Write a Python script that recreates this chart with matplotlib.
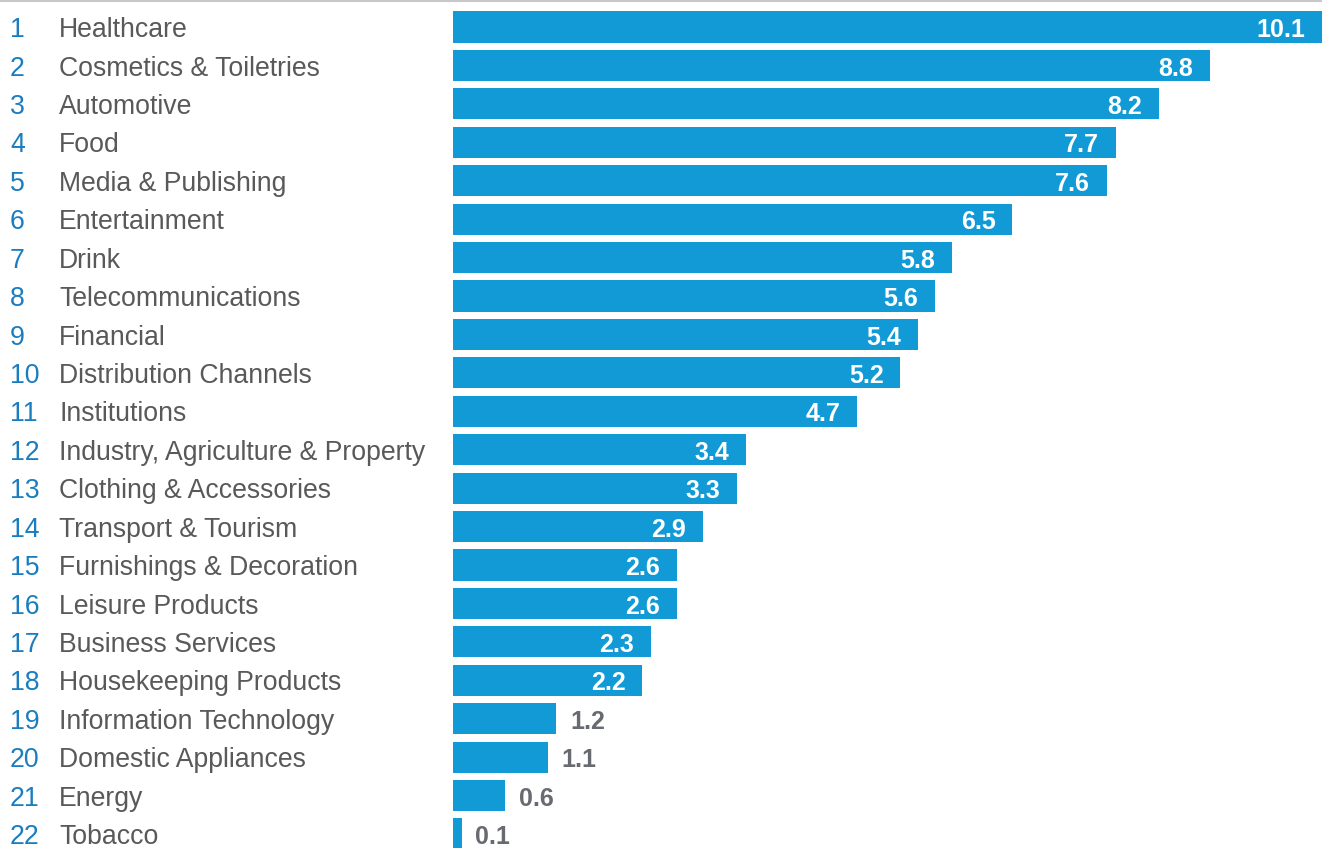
import matplotlib

matplotlib.use("Agg")
import matplotlib.pyplot as plt
from matplotlib.lines import Line2D
from matplotlib.transforms import blended_transform_factory

BLUE = "#119ad6"
NUM = "#1a7dc0"
TXT = "#595959"
DARK = "#676a70"

categories = ["Healthcare", "Cosmetics & Toiletries", "Automotive", "Food", "Media & Publishing",
              "Entertainment", "Drink", "Telecommunications", "Financial", "Distribution Channels",
              "Institutions", "Industry, Agriculture & Property", "Clothing & Accessories",
              "Transport & Tourism", "Furnishings & Decoration", "Leisure Products",
              "Business Services", "Housekeeping Products", "Information Technology",
              "Domestic Appliances", "Energy", "Tobacco"]
ranks = list(range(1, len(categories) + 1))
values = [10.1, 8.8, 8.2, 7.7, 7.6, 6.5, 5.8, 5.6, 5.4, 5.2, 4.7, 3.4, 3.3, 2.9, 2.6, 2.6,
          2.3, 2.2, 1.2, 1.1, 0.6, 0.1]

W, H = 1322, 848
fig = plt.figure(figsize=(W / 100, H / 100), dpi=100)
ax = fig.add_axes([453 / W, 0, 1 - 453 / W, 1])
ax.set_axis_off()

y = list(range(len(values)))
ax.barh(y, values, height=0.81, color=BLUE)
ax.set_xlim(0, 10.1)
ax.set_ylim((H - 27) / 38.43, -27 / 38.43)

font = "Liberation Sans"
dy = 0.08  # text sits a touch below the bar centre
lab_tr = blended_transform_factory(fig.transFigure, ax.transData)
for i, (r, c, v) in enumerate(zip(ranks, categories, values)):
    ax.text(10 / W, i + dy, str(r), transform=lab_tr, color=NUM, fontsize=19.2, family=font,
            va="center", ha="left", clip_on=False)
    ax.text(59 / W, i + dy, c, transform=lab_tr, color=TXT, fontsize=19.2, family=font,
            va="center", ha="left", clip_on=False)
    if v >= 2:
        ax.annotate(f"{v:.1f}", (v, i + dy), xytext=(-12, 0), textcoords="offset points",
                    color="white", fontsize=18, fontweight="bold", family=font,
                    va="center", ha="right")
    else:
        ax.annotate(f"{v:.1f}", (v, i + dy), xytext=(10, 0), textcoords="offset points",
                    color=DARK, fontsize=18, fontweight="bold", family=font,
                    va="center", ha="left", annotation_clip=False)

fig.add_artist(Line2D([0, 1], [1 - 1 / H, 1 - 1 / H], transform=fig.transFigure,
                      color="#c8c8c8", lw=1.5))

fig.savefig("out.png", dpi=100)
